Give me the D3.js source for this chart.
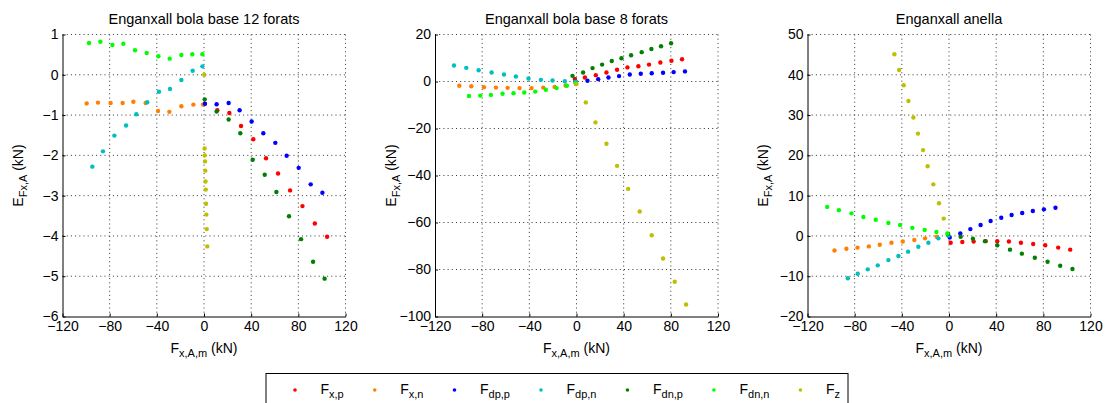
<!DOCTYPE html>
<html><head><meta charset="utf-8">
<script src="https://cdn.jsdelivr.net/npm/d3@7"></script>
<style>body{margin:0;background:#fff} text{font-family:"Liberation Sans",Arial,sans-serif;fill:#000}</style>
</head><body><svg id="c" width="1105" height="403"></svg>
<script>
// ---- data ----
const seriesNames = ["Fxp","Fxn","Fdpp","Fdpn","Fdnp","Fdnn","Fz"];
const legendMain = ["F","F","F","F","F","F","F"];
const legendSub = ["x,p","x,n","dp,p","dp,n","dn,p","dn,n","z"];
const colors = ["#ff0000","#ff8000","#0000ff","#00bfbf","#008000","#00ff00","#bfbf00"];
const titles = ["Enganxall bola base 12 forats","Enganxall bola base 8 forats","Enganxall anella"];
const xTicks = [-120,-80,-40,0,40,80,120];
const yTicks1 = [-6,-5,-4,-3,-2,-1,0,1];
const yTicks2 = [-100,-80,-60,-40,-20,0,20];
const yTicks3 = [-20,-10,0,10,20,30,40,50];

// panel 1: bola base 12 forats
const b12_Fxp_x = [0.6,11.3,21.5,31.4,41.8,52.6,62.8,73.0,83.5,94.0,104.4];
const b12_Fxp_y = [-0.72,-0.88,-0.95,-1.27,-1.60,-2.07,-2.45,-2.87,-3.26,-3.69,-4.02];
const b12_Fxn_x = [-99.5,-89.9,-79.2,-69.0,-59.9,-49.5,-39.0,-29.4,-19.2,-9.0,-0.8];
const b12_Fxn_y = [-0.71,-0.69,-0.70,-0.70,-0.67,-0.70,-0.90,-0.92,-0.78,-0.74,-0.74];
const b12_Fdpp_x = [0.8,10.7,20.9,30.2,40.4,50.3,60.5,70.1,80.3,90.5,100.4];
const b12_Fdpp_y = [-0.72,-0.73,-0.70,-0.88,-1.16,-1.45,-1.69,-2.01,-2.31,-2.72,-2.93];
const b12_Fdpn_x = [-94.7,-85.7,-76.0,-66.1,-57.4,-48.1,-38.2,-28.8,-19.2,-9.6,-1.4];
const b12_Fdpn_y = [-2.28,-1.90,-1.51,-1.26,-0.98,-0.68,-0.42,-0.35,-0.13,0.10,0.21];
const b12_Fdnp_x = [0.6,10.7,20.9,30.8,41.3,51.5,61.4,72.1,82.3,92.5,102.3];
const b12_Fdnp_y = [-0.61,-0.91,-1.11,-1.45,-2.11,-2.48,-2.91,-3.51,-4.08,-4.64,-5.06];
const b12_Fdnn_x = [-97.5,-87.9,-77.7,-68.4,-58.5,-48.6,-38.7,-29.1,-19.2,-9.9,-1.4];
const b12_Fdnn_y = [0.79,0.82,0.74,0.77,0.61,0.54,0.46,0.40,0.49,0.51,0.51];
const b12_Fz_x = [0.2,0.5,0.7,0.9,1.1,1.3,1.5,1.7,2.0,2.3,2.8];
const b12_Fz_y = [0,-1.83,-2.0,-2.15,-2.38,-2.65,-2.85,-3.2,-3.47,-3.83,-4.26];

// panel 2: bola base 8 forats
const b8_Fxp_x = [-1.4,7.1,16.4,25.4,34.4,43.2,52.5,61.5,71.1,80.5,89.5];
const b8_Fxp_y = [1.1,1.7,2.7,3.8,5.0,6.0,6.5,7.2,8.1,8.8,9.5];
const b8_Fxn_x = [-99.4,-89.2,-78.5,-68.3,-58.4,-48.3,-38.1,-28.2,-18.6,-9.3,-0.6];
const b8_Fxn_y = [-1.8,-2.0,-2.4,-2.6,-2.7,-2.8,-2.8,-2.6,-2.3,-1.7,-1.1];
const b8_Fdpp_x = [-0.8,9.3,18.4,27.1,36.1,45.2,54.5,63.8,73.4,82.4,92.0];
const b8_Fdpp_y = [0,0.3,1.0,1.7,2.3,3.0,3.3,3.5,3.7,4.0,4.3];
const b8_Fdpn_x = [-103.9,-93.5,-83.0,-72.0,-61.5,-51.4,-40.7,-30.2,-20.3,-9.9,-0.8];
const b8_Fdpn_y = [6.8,5.8,4.8,3.8,3.0,2.1,1.3,0.7,0.4,0.1,-0.1];
const b8_Fdnp_x = [-3.4,5.6,13.6,21.7,29.9,38.1,46.3,55.3,63.5,71.7,80.2];
const b8_Fdnp_y = [2.4,3.8,5.7,7.2,8.7,9.9,11.2,12.5,13.8,15.0,16.3];
const b8_Fdnn_x = [-91.2,-81.6,-72.6,-62.7,-53.4,-44.3,-35.0,-26.0,-16.9,-8.2,-0.6];
const b8_Fdnn_y = [-6.2,-6.0,-5.7,-5.2,-5.0,-4.7,-4.3,-3.5,-2.8,-1.8,-0.7];
const b8_Fz_x = [0,7.9,16.1,25.4,34.4,43.8,53.6,63.8,73.4,83.3,92.9];
const b8_Fz_y = [-1.1,-8.9,-17.4,-26.5,-35.9,-45.7,-55.3,-65.4,-75.3,-85.2,-94.9];

// panel 3: anella
const an_Fxp_x = [1.4,11.3,20.9,31.1,40.9,50.8,61.0,71.4,81.6,92.6,102.8];
const an_Fxp_y = [-1.7,-1.5,-1.4,-1.3,-1.3,-1.4,-1.7,-2.0,-2.3,-2.9,-3.4];
const an_Fxn_x = [-97.1,-87.0,-77.6,-68.0,-58.7,-48.8,-39.2,-29.4,-20.3,-10.4,-1.1];
const an_Fxn_y = [-3.6,-3.2,-2.9,-2.6,-2.2,-1.7,-1.4,-1.0,-0.6,-0.2,0.2];
const an_Fdpp_x = [0.6,9.6,18.1,26.8,35.3,44.3,53.1,62.1,71.1,80.5,90.3];
const an_Fdpp_y = [-0.4,0.6,1.7,2.7,3.7,4.5,5.2,5.7,6.2,6.6,7.0];
const an_Fdpn_x = [-85.8,-77.4,-68.9,-60.4,-51.4,-42.9,-34.7,-26.0,-17.5,-9.0,-0.5];
const an_Fdpn_y = [-10.5,-9.4,-8.3,-7.3,-6.0,-5.0,-3.9,-2.7,-1.7,-0.6,0.1];
const an_Fdnp_x = [-0.8,9.9,20.3,30.5,40.9,51.7,61.8,72.8,83.6,94.3,104.7];
const an_Fdnp_y = [0.5,-0.2,-0.7,-1.3,-2.3,-3.4,-4.4,-5.4,-6.4,-7.4,-8.2];
const an_Fdnn_x = [-103.3,-93.4,-82.7,-72.6,-62.1,-51.4,-41.5,-31.1,-20.6,-10.7,-1.4];
const an_Fdnn_y = [7.2,6.4,5.6,4.7,4.0,3.2,2.7,2.0,1.5,1.0,0.6];
const an_Fz_x = [-46.3,-42.3,-38.4,-34.4,-30.2,-26.3,-22.0,-18.1,-13.3,-8.5,-4.5];
const an_Fz_y = [45.1,41.2,37.4,33.5,29.4,25.4,21.3,17.3,12.8,8.1,4.3];

// ---- build ----
const panels = [
  {title: titles[0], yTicks: yTicks1, series: [[b12_Fxp_x,b12_Fxp_y],[b12_Fxn_x,b12_Fxn_y],[b12_Fdpp_x,b12_Fdpp_y],[b12_Fdpn_x,b12_Fdpn_y],[b12_Fdnp_x,b12_Fdnp_y],[b12_Fdnn_x,b12_Fdnn_y],[b12_Fz_x,b12_Fz_y]]},
  {title: titles[1], yTicks: yTicks2, series: [[b8_Fxp_x,b8_Fxp_y],[b8_Fxn_x,b8_Fxn_y],[b8_Fdpp_x,b8_Fdpp_y],[b8_Fdpn_x,b8_Fdpn_y],[b8_Fdnp_x,b8_Fdnp_y],[b8_Fdnn_x,b8_Fdnn_y],[b8_Fz_x,b8_Fz_y]]},
  {title: titles[2], yTicks: yTicks3, series: [[an_Fxp_x,an_Fxp_y],[an_Fxn_x,an_Fxn_y],[an_Fdpp_x,an_Fdpp_y],[an_Fdpn_x,an_Fdpn_y],[an_Fdnp_x,an_Fdnp_y],[an_Fdnn_x,an_Fdnn_y],[an_Fz_x,an_Fz_y]]}
];

const svg = d3.select("#c");
const lefts = [62.5, 435, 807.5];
const topM = 34.5, pw = 283, ph = 282;
const FS = 14;
const fmt = d3.format("d");

panels.forEach((p, i) => {
  const g = svg.append("g").attr("transform", `translate(${lefts[i]},${topM})`);
  const x = d3.scaleLinear().domain([-120,120]).range([0,pw]);
  const yd = d3.extent(p.yTicks);
  const y = d3.scaleLinear().domain(yd).range([ph,0]);

  // grid
  const grid = g.append("g").attr("stroke","#000").attr("stroke-width",1).attr("stroke-dasharray","1,3.2").attr("opacity",0.8);
  xTicks.filter(t => t !== -120).forEach(t => {
    grid.append("line").attr("x1",x(t)).attr("x2",x(t)).attr("y1",0).attr("y2",ph);
  });
  p.yTicks.filter(t => t !== yd[0]).forEach(t => {
    grid.append("line").attr("x1",0).attr("x2",pw).attr("y1",y(t)).attr("y2",y(t));
  });

  // axes
  const ax = g.append("g").attr("transform",`translate(0,${ph})`)
    .call(d3.axisBottom(x).tickValues(xTicks).tickFormat(fmt).tickSizeInner(-3).tickSizeOuter(0).tickPadding(5));
  const ay = g.append("g")
    .call(d3.axisLeft(y).tickValues(p.yTicks).tickFormat(fmt).tickSizeInner(-3).tickSizeOuter(0).tickPadding(4));
  [ax, ay].forEach(a => {
    a.selectAll("text").style("font-size", FS+"px").attr("font-family",null);
    a.select(".domain").attr("stroke","#000");
    a.selectAll(".tick line").attr("stroke","#000");
  });

  // points
  p.series.forEach((s, k) => {
    const pts = s[0].map((v, j) => [v, s[1][j]]);
    g.append("g").selectAll("circle").data(pts).join("circle")
      .attr("cx", d => x(d[0])).attr("cy", d => y(d[1])).attr("r", 2.2)
      .attr("fill", colors[k]);
  });

  // title
  g.append("text").attr("x", pw/2).attr("y", -10.5).attr("text-anchor","middle")
    .style("font-size","14.5px").text(p.title);

  // x label
  const xl = g.append("text").attr("x", pw/2).attr("y", ph + 36.5).attr("text-anchor","middle").style("font-size", FS+"px");
  xl.append("tspan").text("F");
  xl.append("tspan").attr("dy",4).style("font-size","11px").text("x,A,m");
  xl.append("tspan").attr("dy",-4).text(" (kN)");

  // y label
  const yl = g.append("text").attr("transform",`translate(-39.5,${ph/2}) rotate(-90)`)
    .attr("text-anchor","middle").style("font-size", FS+"px");
  yl.append("tspan").text("E");
  yl.append("tspan").attr("dy",4).style("font-size","11px").text("Fx,A");
  yl.append("tspan").attr("dy",-4).text(" (kN)");
});

// legend
const lg = svg.append("g");
lg.append("rect").attr("x",266).attr("y",373.5).attr("width",582).attr("height",40)
  .attr("fill","#fff").attr("stroke","#000").attr("stroke-width",1);
let cx = 295;
seriesNames.forEach((n, k) => {
  lg.append("circle").attr("cx", cx).attr("cy", 390).attr("r", 1.8).attr("fill", colors[k]);
  const t = lg.append("text").attr("x", cx + 25.5).attr("y", 393.5).style("font-size", FS+"px");
  t.append("tspan").text(legendMain[k]);
  t.append("tspan").attr("dy",4).style("font-size","11px").text(legendSub[k]);
  const w = t.node().getComputedTextLength();
  cx = cx + 25.5 + w + 31;
});
</script></body></html>
